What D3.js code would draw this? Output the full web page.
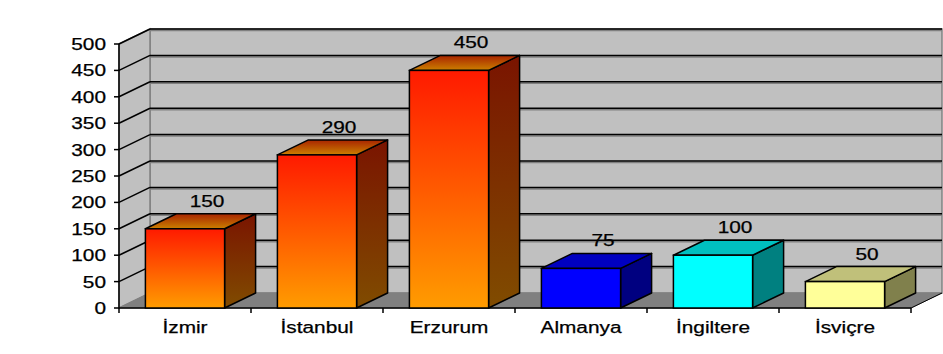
<!DOCTYPE html>
<html>
<head>
<meta charset="utf-8">
<script src="https://cdn.jsdelivr.net/npm/d3@7"></script>
<style>
  body { margin: 0; background: #fff; }
  text { font-family: "Liberation Sans", Arial, sans-serif; fill: #000; stroke: #000; stroke-width: 0.25px; }
</style>
</head>
<body>
<svg id="chart" width="943" height="354"></svg>
<script>
// data
const categories = ['İzmir', 'İstanbul', 'Erzurum', 'Almanya', 'İngiltere', 'İsviçre']
const values = [150, 290, 450, 75, 100, 50]
const yTicks = [0, 50, 100, 150, 200, 250, 300, 350, 400, 450, 500]
// front / top / side colours of each bar ('fire' = gradient)
const barColors = ['fire', 'fire', 'fire', 'blue', 'cyan', 'yellow']

const palette = {
    blue:   { front: '#0000ff', top: '#0000c0', side: '#000080' },
    cyan:   { front: '#00ffff', top: '#00c0c0', side: '#008080' },
    yellow: { front: '#ffff99', top: '#c0c07a', side: '#80804c' },
    fire:   { front: 'url(#fireFront)', top: 'url(#fireTop)', side: 'url(#fireSide)' }
}

const dx = 31, dy = -15 // depth of the 3d box
const svg = d3.select('#chart')

const x = d3.scaleBand().domain(categories).range([119, 911]).paddingInner(0.4).paddingOuter(0.2)
const y = d3.scaleLinear().domain([0, 500]).range([308, 44])
const x0 = 119, x1 = 911

// gradients
const defs = svg.append('defs')
function grad(id, stops) {
    const g = defs.append('linearGradient').attr('id', id).attr('x1', 0).attr('y1', 0).attr('x2', 0).attr('y2', 1)
    stops.forEach(s => g.append('stop').attr('offset', s[0]).attr('stop-color', s[1]))
}
grad('fireFront', [[0, '#ff1a00'], [0.5, '#ff5a00'], [1, '#ff9c00']])
grad('fireSide', [[0, '#7a1400'], [1, '#804c00']])
grad('fireTop', [[0, '#a82400'], [1, '#cc8000']])

const pts = a => a.map(p => p.join(',')).join(' ')

// back wall
svg.append('polygon')
    .attr('points', pts([[x0 + dx, y(500) + dy], [x1 + dx, y(500) + dy], [x1 + dx, y(0) + dy], [x0 + dx, y(0) + dy]]))
    .attr('fill', '#c0c0c0').attr('stroke', '#808080').attr('stroke-width', 1.5)
// side wall
svg.append('polygon')
    .attr('points', pts([[x0, y(500)], [x0 + dx, y(500) + dy], [x0 + dx, y(0) + dy], [x0, y(0)]]))
    .attr('fill', '#c0c0c0').attr('stroke', '#808080').attr('stroke-width', 1.5)

// gridlines
const grid = svg.append('g')
yTicks.filter(t => t > 0).forEach(t => {
    grid.append('line').attr('x1', x0 + dx).attr('x2', x1 + dx)
        .attr('y1', y(t) + dy + 1.5).attr('y2', y(t) + dy + 1.5).attr('stroke', '#808080').attr('stroke-width', 1.5)
    grid.append('line').attr('x1', x0 + dx).attr('x2', x1 + dx)
        .attr('y1', y(t) + dy).attr('y2', y(t) + dy).attr('stroke', '#000').attr('stroke-width', 1.5)
    grid.append('line').attr('x1', x0).attr('x2', x0 + dx)
        .attr('y1', y(t)).attr('y2', y(t) + dy).attr('stroke', '#000').attr('stroke-width', 1.5)
})

// floor
svg.append('polygon')
    .attr('points', pts([[x0, y(0)], [x0 + dx, y(0) + dy], [x1 + dx, y(0) + dy], [x1, y(0)]]))
    .attr('fill', '#808080').attr('stroke', '#808080')

// axes lines
svg.append('line').attr('x1', x0).attr('x2', x0).attr('y1', y(500)).attr('y2', y(0))
    .attr('stroke', '#000').attr('stroke-width', 1.5)
svg.append('line').attr('x1', x0).attr('x2', x1).attr('y1', y(0)).attr('y2', y(0))
    .attr('stroke', '#000').attr('stroke-width', 1.5)
svg.append('line').attr('x1', x1).attr('x2', x1 + dx).attr('y1', y(0)).attr('y2', y(0) + dy)
    .attr('stroke', '#000').attr('stroke-width', 1)

// y ticks + labels
const yAxis = svg.append('g')
yTicks.forEach(t => {
    yAxis.append('line').attr('x1', x0 - 5).attr('x2', x0).attr('y1', y(t)).attr('y2', y(t))
        .attr('stroke', '#000').attr('stroke-width', 1.5)
    yAxis.append('text').attr('class', 'stretch').attr('x', 106).attr('y', y(t) + 6)
        .attr('text-anchor', 'end').attr('font-size', 16).text(t)
})

// category ticks
const step = x.step()
d3.range(categories.length + 1).forEach(i => {
    const tx = x0 + i * step
    svg.append('line').attr('x1', tx).attr('x2', tx).attr('y1', y(0)).attr('y2', y(0) + 5)
        .attr('stroke', '#000').attr('stroke-width', 1.5)
})

// bars
const bw = x.bandwidth()
const bars = svg.selectAll('g.bar')
    .data(categories.map((c, i) => ({ cat: c, v: values[i], col: palette[barColors[i]] })))
    .join('g').attr('class', 'bar')

bars.append('polygon') // side
    .attr('points', d => {
        const r = x(d.cat) + bw
        return pts([[r, y(d.v)], [r + dx, y(d.v) + dy], [r + dx, y(0) + dy], [r, y(0)]])
    })
    .attr('fill', d => d.col.side).attr('stroke', '#000').attr('stroke-width', 1.5).attr('stroke-linejoin', 'round')
bars.append('polygon') // top
    .attr('points', d => {
        const l = x(d.cat), r = l + bw
        return pts([[l, y(d.v)], [l + dx, y(d.v) + dy], [r + dx, y(d.v) + dy], [r, y(d.v)]])
    })
    .attr('fill', d => d.col.top).attr('stroke', '#000').attr('stroke-width', 1.5).attr('stroke-linejoin', 'round')
bars.append('rect') // front
    .attr('x', d => x(d.cat)).attr('y', d => y(d.v))
    .attr('width', bw).attr('height', d => y(0) - y(d.v))
    .attr('fill', d => d.col.front).attr('stroke', '#000').attr('stroke-width', 1.5)

// value labels
bars.append('text').attr('class', 'stretch')
    .attr('x', d => x(d.cat) + bw / 2 + 22).attr('y', d => y(d.v) + dy - 7)
    .attr('text-anchor', 'middle').attr('font-size', 16)
    .text(d => d.v)

// category labels
svg.selectAll('text.cat')
    .data(categories)
    .join('text').attr('class', 'cat stretch')
    .attr('x', d => x(d) + bw / 2).attr('y', 333)
    .attr('text-anchor', 'middle').attr('font-size', 16)
    .text(d => d)

// stretch text horizontally like the original rendering
svg.selectAll('text.stretch').each(function () {
    const w = this.getComputedTextLength()
    d3.select(this).attr('textLength', w * 1.3).attr('lengthAdjust', 'spacingAndGlyphs')
})
</script>
</body>
</html>
